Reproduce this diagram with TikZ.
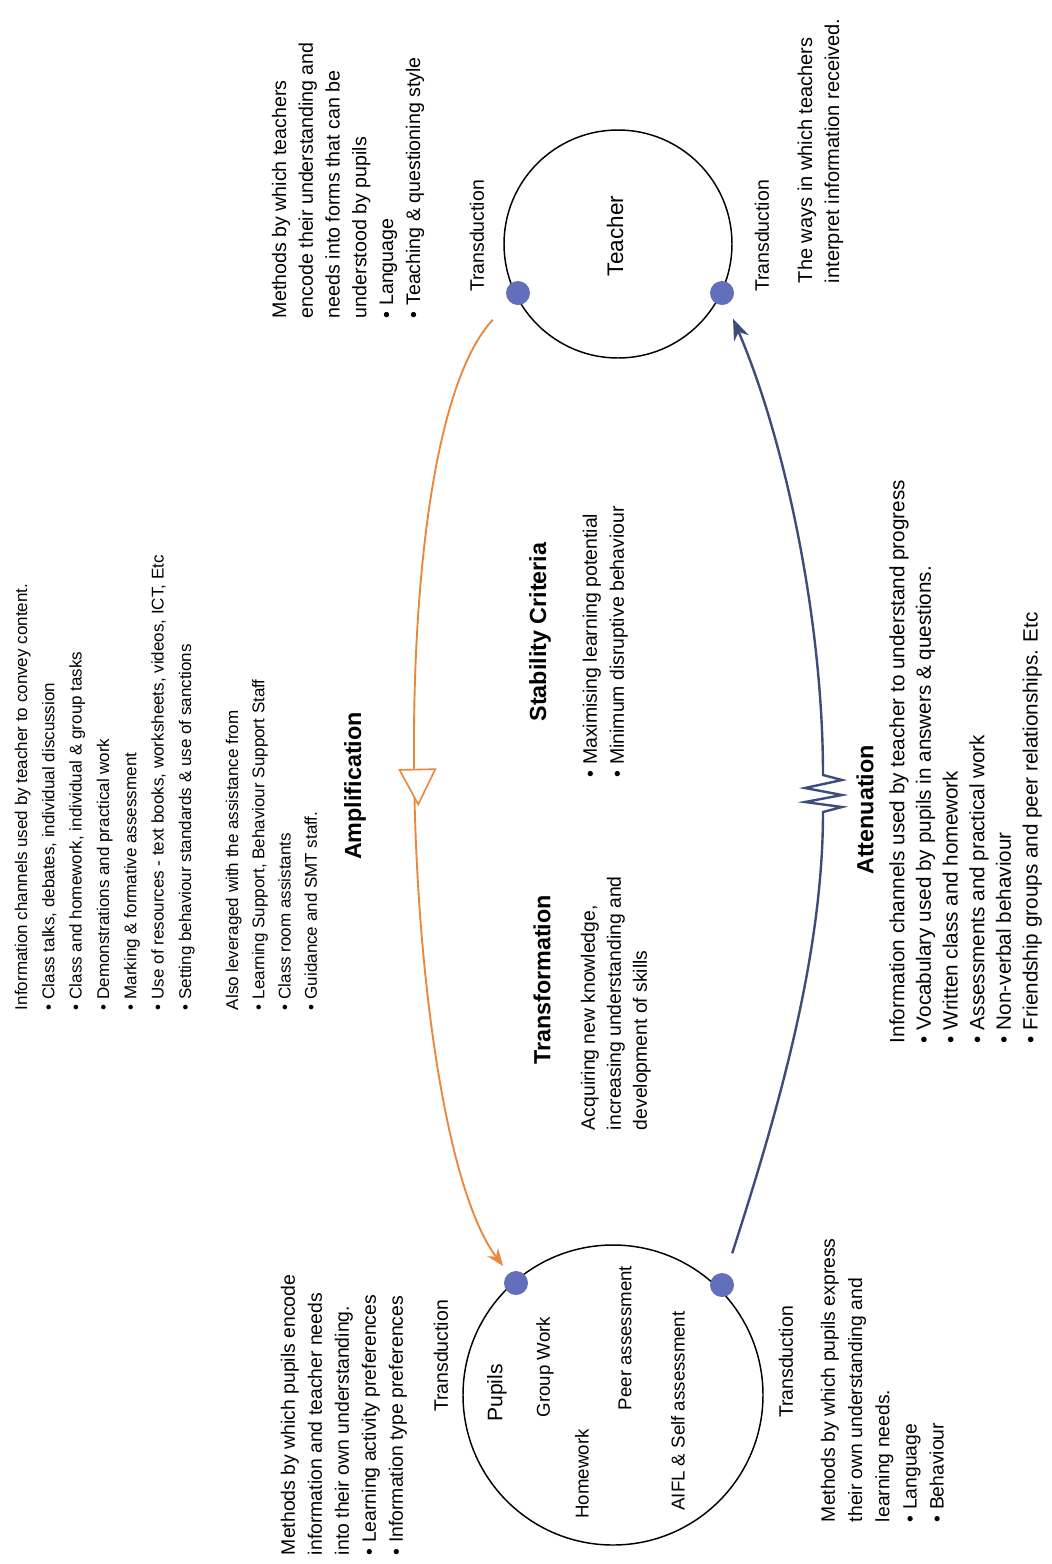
\documentclass[tikz,border=0pt]{standalone}
\usepackage{fontspec}
\setmainfont{Liberation Sans}
\usetikzlibrary{arrows.meta,decorations.markings}

\definecolor{ampcol}{RGB}{234,135,58}
\definecolor{attcol}{RGB}{62,76,122}
\definecolor{portcol}{RGB}{98,112,188}

\newcommand{\fsz}[2]{\fontsize{#1}{#2}\selectfont}

\begin{document}
\begin{tikzpicture}[x=0.75pt,y=-0.75pt,
  every node/.style={inner sep=0pt, outer sep=0pt},
  vtext/.style={rotate=90, anchor=north west, align=left},
  vlabel/.style={rotate=90, anchor=center},
  heading/.style={vlabel, font=\bfseries\fsz{17.5}{21}},
  trans/.style={vlabel, font=\fsz{14.6}{18}},
  actor/.style={circle, draw=black, line width=1.1pt},
  port/.style={circle, fill=portcol, minimum size=18pt},
  item/.style={vlabel, font=\fsz{14}{17}},
  ampline/.style={draw=ampcol, line width=1.4pt,
    -{Stealth[length=13pt,width=10pt]},
    postaction={decorate},
    decoration={markings,
      mark=at position 0.52 with {\arrow[ampcol,line width=1.2pt]{Triangle[length=28pt,width=28.5pt,fill=white]}}}},
  attline/.style={draw=attcol, line width=1.8pt, line join=miter,
    -{Stealth[length=16pt,width=12pt]}}
]
% canvas
\fill[white] (0,0) rectangle (1052,1564);
\useasboundingbox (0,0) rectangle (1052,1564);

% the two actors
\node[actor, minimum size=171pt] (teacher) at (618,244) {};
\node[actor, minimum size=225pt] (pupils) at (613,1395) {};
\node[vlabel, font=\fsz{16.9}{20}] (teacherlbl) at (615,236) {Teacher};

% contents of the pupils circle
\node[vlabel, font=\fsz{15.8}{19}] (pupilslbl) at (497,1393) {Pupils};
\node[item] (groupwork) at (545,1367) {Group Work};
\node[item] (homework) at (582,1474) {Homework};
\node[item] (peer) at (625,1338) {Peer assessment};
\node[item] (aifl) at (678,1411) {AIFL \& Self assessment};

% transduction ports
\node[port] (tdl) at (518,293) {};
\node[port] (tdr) at (722,293) {};
\node[port] (pdl) at (516,1283) {};
\node[port] (pdr) at (722,1285) {};

\node[trans] (ttl) at (477,236) {Transduction};
\node[trans] (ttr) at (762,236) {Transduction};
\node[trans] (tpl) at (441,1356) {Transduction};
\node[trans] (tpr) at (786,1362) {Transduction};

% amplification channel, teacher to pupils
\draw[ampline, shorten <=18.5pt, shorten >=7pt]
  (tdl) .. controls (375,445) and (400,1130) .. (pdl);

% attenuation channel, pupils to teacher, with its resistor zigzag
\draw[attline, shorten <=16pt, shorten >=12pt]
  (pdr) .. controls (775,1120) and (823,960) .. (823,812)
  -- (842,807) -- (805,802) -- (842,795) -- (805,788) -- (842,780) -- (823,775)
  .. controls (823,620) and (785,440) .. (tdr);

% headings
\node[heading] (amplbl) at (355,786) {Amplification};
\node[heading] (stablbl) at (540,632) {Stability Criteria};
\node[heading] (translbl) at (542,980) {Transformation};
\node[heading] (attlbl) at (865,810) {Attenuation};

% amplification notes
\node[vtext, font=\fsz{12.75}{20.5}] (ampnotes) at (14.7,1010) {%
Information channels used by teacher to convey content.\\
• Class talks, debates, individual discussion\\
• Class and homework, individual \& group tasks\\
• Demonstrations and practical work\\
• Marking \& formative assessment\\
• Use of resources - text books, worksheets, videos, ICT, Etc\\
• Setting behaviour standards \& use of sanctions};
\node[vtext, font=\fsz{12.75}{19.7}] (ampsupport) at (225.7,1010) {%
Also leveraged with the assistance from\\
• Learning Support, Behaviour Support Staff\\
• Class room assistants\\
• Guidance and SMT staff.};

% teacher encoding
\node[vtext, font=\fsz{14.7}{20.1}] (tencode) at (271.8,318) {%
Methods by which teachers\\
encode their understanding and\\
needs into forms that can be\\
understood by pupils\\
• Language\\
• Teaching \& questioning style};

% teacher decoding
\node[vtext, font=\fsz{15}{20.25}] (tdecode) at (797.6,283) {%
The ways in which teachers\\
interpret information received.};

% stability criteria
\node[vtext, font=\fsz{14.6}{20.25}] (stabnotes) at (582.8,777) {%
• Maximising learning potential\\
• Minimum disruptive behaviour};

% transformation
\node[vtext, font=\fsz{14.5}{19.5}] (transnotes) at (580.9,1130) {%
Acquiring new knowledge,\\
increasing understanding and\\
development of skills};

% attenuation notes
\node[vtext, font=\fsz{15.5}{20}] (attnotes) at (889.3,1043) {%
Information channels used by teacher to understand progress\\
• Vocabulary used by pupils in answers \& questions.\\
• Written class and homework\\
• Assessments and practical work\\
• Non-verbal behaviour\\
• Friendship groups and peer relationships. Etc};

% pupils decoding
\node[vtext, font=\fsz{14.55}{20.25}] (pdecode) at (280.8,1555) {%
Methods by which pupils encode\\
information and teacher needs\\
into their own understanding.\\
• Learning activity preferences\\
• Information type preferences};

% pupils encoding
\node[vtext, font=\fsz{14.5}{20.4}] (pencode) at (820.9,1522) {%
Methods by which pupils express\\
their own understanding and\\
learning needs.\\
• Language\\
• Behaviour};
\end{tikzpicture}
\end{document}
